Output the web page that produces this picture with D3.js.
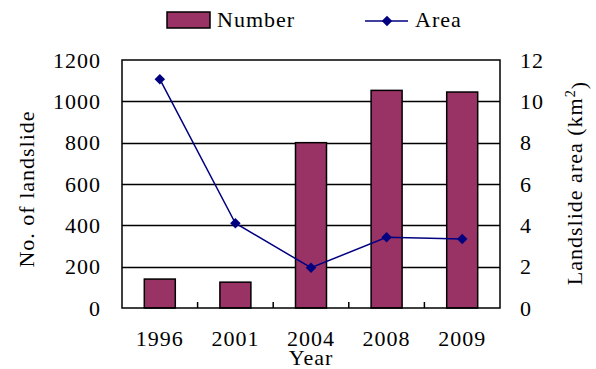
<!DOCTYPE html>
<html>
<head>
<meta charset="utf-8">
<script src="https://cdn.jsdelivr.net/npm/d3@7"></script>
<style>
  body { margin: 0; background: #fff; }
  svg text { font-family: "Liberation Serif", "Times New Roman", serif; fill: #000; letter-spacing: 1px; }
</style>
</head>
<body>
<div class="chart"></div>
<script>
var years = ["1996", "2001", "2004", "2008", "2009"]
var numbers = [140, 125, 800, 1053, 1045]
var areas = [11.07, 4.1, 1.95, 3.42, 3.34]
var leftTicks = [0, 200, 400, 600, 800, 1000, 1200]
var rightTicks = [0, 2, 4, 6, 8, 10, 12]

var width = 596,
  height = 369,
  margin = {top: 60, right: 96, bottom: 61, left: 122},
  fontSize = 22

var svg = d3.select(".chart").append("svg")
  .attr("width", width)
  .attr("height", height)

var x = d3.scaleBand()
  .domain(years)
  .range([margin.left, width - margin.right])
  .paddingInner(0.59)
  .paddingOuter(0.295)

var yLeft = d3.scaleLinear()
  .domain([0, 1200])
  .range([height - margin.bottom, margin.top])

var yRight = d3.scaleLinear()
  .domain([0, 12])
  .range([height - margin.bottom, margin.top])

var plotL = margin.left,
  plotR = width - margin.right,
  plotT = margin.top,
  plotB = height - margin.bottom

// horizontal grid lines
svg.append("g")
  .selectAll("line")
  .data(leftTicks.slice(1, -1))
  .enter().append("line")
  .attr("x1", plotL)
  .attr("x2", plotR)
  .attr("y1", d => Math.round(yLeft(d)) + 0.5)
  .attr("y2", d => Math.round(yLeft(d)) + 0.5)
  .attr("stroke", "#000")
  .attr("stroke-width", 1.5)

// bars
svg.append("g")
  .selectAll("rect")
  .data(numbers)
  .enter().append("rect")
  .attr("x", (d, i) => x(years[i]))
  .attr("width", x.bandwidth())
  .attr("y", d => yLeft(d))
  .attr("height", d => yLeft(0) - yLeft(d))
  .attr("fill", "#993366")
  .attr("stroke", "#000")
  .attr("stroke-width", 1.5)

// plot frame
svg.append("rect")
  .attr("x", plotL)
  .attr("y", plotT)
  .attr("width", plotR - plotL)
  .attr("height", plotB - plotT)
  .attr("fill", "none")
  .attr("stroke", "#000")
  .attr("stroke-width", 1.5)

// category separators on the x axis
var step = x.step()
svg.append("g")
  .selectAll("line")
  .data(years.slice(1))
  .enter().append("line")
  .attr("x1", (d, i) => plotL + step * (i + 1))
  .attr("x2", (d, i) => plotL + step * (i + 1))
  .attr("y1", plotB)
  .attr("y2", plotB - 6)
  .attr("stroke", "#000")
  .attr("stroke-width", 1.5)

// area line
var line = d3.line()
  .x((d, i) => x(years[i]) + x.bandwidth() / 2)
  .y(d => yRight(d))

svg.append("path")
  .datum(areas)
  .attr("d", line)
  .attr("fill", "none")
  .attr("stroke", "#000080")
  .attr("stroke-width", 1.5)

var diamond = d3.symbol().type(d3.symbolDiamond2).size(70)
svg.append("g")
  .selectAll("path")
  .data(areas)
  .enter().append("path")
  .attr("d", diamond)
  .attr("transform", (d, i) => `translate(${x(years[i]) + x.bandwidth() / 2},${yRight(d)})`)
  .attr("fill", "#000080")

// tick labels
svg.append("g")
  .selectAll("text")
  .data(leftTicks)
  .enter().append("text")
  .attr("x", 101)
  .attr("y", d => yLeft(d))
  .attr("dy", "0.35em")
  .attr("text-anchor", "end")
  .attr("font-size", fontSize)
  .text(d => d)

svg.append("g")
  .selectAll("text")
  .data(rightTicks)
  .enter().append("text")
  .attr("x", 520)
  .attr("y", d => yRight(d))
  .attr("dy", "0.35em")
  .attr("text-anchor", "start")
  .attr("font-size", fontSize)
  .text(d => d)

svg.append("g")
  .selectAll("text")
  .data(years)
  .enter().append("text")
  .attr("x", d => x(d) + x.bandwidth() / 2)
  .attr("y", 346)
  .attr("text-anchor", "middle")
  .attr("font-size", fontSize)
  .text(d => d)

// axis titles
svg.append("text")
  .attr("x", 311)
  .attr("y", 365)
  .attr("text-anchor", "middle")
  .attr("font-size", fontSize)
  .text("Year")

svg.append("text")
  .attr("transform", "translate(34,189) rotate(-90)")
  .attr("text-anchor", "middle")
  .attr("font-size", fontSize)
  .text("No. of landslide")

var rt = svg.append("text")
  .attr("transform", "translate(582,183) rotate(-90)")
  .attr("text-anchor", "middle")
  .attr("font-size", fontSize)
rt.append("tspan").text("Landslide area (km")
rt.append("tspan").attr("dy", "-0.5em").attr("font-size", fontSize * 0.65).text("2")
rt.append("tspan").attr("dy", "0.5em").text(")")

// legend
var legend = svg.append("g")
legend.append("rect")
  .attr("x", 167)
  .attr("y", 12)
  .attr("width", 43)
  .attr("height", 16)
  .attr("fill", "#993366")
  .attr("stroke", "#000")
  .attr("stroke-width", 1.5)
legend.append("text")
  .attr("x", 217)
  .attr("y", 27)
  .attr("font-size", fontSize)
  .text("Number")

legend.append("line")
  .attr("x1", 365)
  .attr("x2", 408)
  .attr("y1", 21)
  .attr("y2", 21)
  .attr("stroke", "#000080")
  .attr("stroke-width", 1.5)
legend.append("path")
  .attr("d", diamond)
  .attr("transform", "translate(387,21)")
  .attr("fill", "#000080")
legend.append("text")
  .attr("x", 415)
  .attr("y", 27)
  .attr("font-size", fontSize)
  .text("Area")
</script>
</body>
</html>
